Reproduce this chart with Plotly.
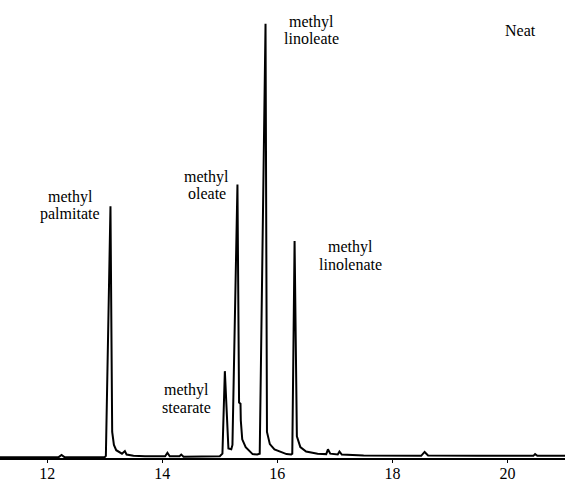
import plotly.graph_objects as go

# Retention time (min) and detector response (relative to tallest peak)
time_min = [11.18, 12.20, 12.25, 12.30, 13.00,
            13.02, 13.10, 13.13, 13.16, 13.20, 13.30, 13.35, 13.38, 13.50, 13.70,
            14.05, 14.09, 14.13, 14.30, 14.33, 14.37, 14.90, 15.00,
            15.046, 15.088, 15.15, 15.20,
            15.22, 15.307, 15.335, 15.36, 15.365, 15.39, 15.45, 15.57, 15.65,
            15.694, 15.795, 15.82, 15.87, 15.95, 16.16, 16.24,
            16.26, 16.30, 16.34, 16.40, 16.50, 16.70, 16.85, 16.88, 16.92,
            17.05, 17.08, 17.12, 17.50, 18.50, 18.56, 18.62, 19.50,
            20.45, 20.48, 20.52, 21.00]
response = [0.002, 0.002, 0.007, 0.002, 0.002,
            0.005, 0.58, 0.06, 0.03, 0.018, 0.010, 0.016, 0.008, 0.005, 0.004,
            0.004, 0.012, 0.004, 0.004, 0.008, 0.003, 0.003, 0.004,
            0.010, 0.20, 0.022, 0.02,
            0.03, 0.63, 0.128, 0.125, 0.087, 0.043, 0.025, 0.009, 0.008,
            0.010, 1.00, 0.06, 0.032, 0.020, 0.009, 0.008,
            0.010, 0.50, 0.05, 0.025, 0.015, 0.010, 0.009, 0.020, 0.010,
            0.008, 0.015, 0.008, 0.006, 0.005, 0.014, 0.006, 0.005,
            0.005, 0.009, 0.005, 0.005]

x_ticks = [12, 14, 16, 18, 20]
tick_labels = ["12", "14", "16", "18", "20"]

peak_names = [["methyl", "palmitate"], ["methyl", "stearate"], ["methyl", "oleate"],
              ["methyl", "linoleate"], ["methyl", "linolenate"]]
panel_label = "Neat"

W, H = 565, 482
plot_h = 461

# label placement (x in data units, y in pixels from top, centre of each text line)
label_pos = [(12.40, 198), (14.42, 393), (14.77, 178), (16.60, 22), (17.27, 249)]
line_gap = 17
font = dict(family="Liberation Serif, Times New Roman, serif", size=16, color="black")

fig = go.Figure()
fig.add_trace(go.Scatter(x=time_min, y=response, mode="lines",
                         line=dict(color="black", width=2), hoverinfo="skip"))

annotations = []
for lines, (xd, ypx) in zip(peak_names, label_pos):
    for i, t in enumerate(lines):
        annotations.append(dict(text=t, x=xd, xref="x",
                                y=(plot_h - (ypx + i * line_gap)) / plot_h, yref="paper",
                                showarrow=False, xanchor="center", yanchor="middle",
                                borderpad=0, font=font))
annotations.append(dict(text=panel_label, x=20.22, xref="x",
                        y=(plot_h - 30.5) / plot_h, yref="paper",
                        showarrow=False, xanchor="center", yanchor="middle", font=font))

fig.update_layout(
    width=W, height=H,
    margin=dict(l=0, r=0, t=0, b=H - plot_h),
    paper_bgcolor="white", plot_bgcolor="white",
    showlegend=False,
    font=font,
    annotations=annotations,
    xaxis=dict(range=[11.18, 21.0], tickvals=x_ticks, ticktext=tick_labels,
               showgrid=False, zeroline=False, showline=True, linecolor="black", linewidth=1.5,
               ticks="outside", ticklen=3, tickwidth=1, tickcolor="black",
               ticklabelstandoff=-3, tickfont=font),
    yaxis=dict(range=[0, plot_h / 437], visible=False, showgrid=False, zeroline=False),
)

fig.write_html("out.html", config={"displayModeBar": False},
               post_script="document.body.style.margin='0';document.body.style.padding='0';")
